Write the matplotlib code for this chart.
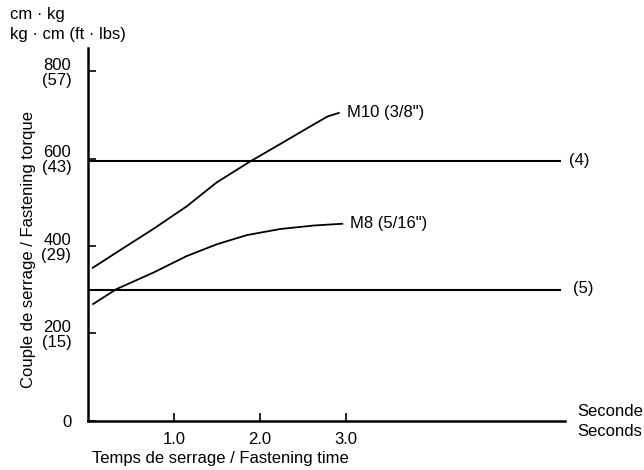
import matplotlib.pyplot as plt

plt.rcParams['font.family'] = ['Liberation Sans', 'DejaVu Sans']

# torque curves (time in s, torque in kg-cm)
m10_time = [0.055, 0.37, 0.76, 1.15, 1.50, 1.89, 2.24, 2.63, 2.79, 2.92]
m10_torque = [350, 390, 439, 491, 546, 594, 634, 679, 697, 705]
m8_time = [0.06, 0.33, 0.76, 1.15, 1.50, 1.85, 2.24, 2.63, 2.96]
m8_torque = [267, 301, 339, 377, 404, 425, 439, 447, 451]

# reference levels
level_time = [0.0, 5.5]
level4 = [595, 595]
level5 = [300, 300]

y_ticks = [0, 200, 400, 600, 800]
y_labels = ['0', '200\n(15)', '400\n(29)', '600\n(43)', '800\n(57)']
x_ticks = [1.0, 2.0, 3.0]
x_labels = ['1.0', '2.0', '3.0']

fs = 12

fig = plt.figure(figsize=(6.44, 4.70), dpi=100)
ax = fig.add_axes([0.1366, 0.1053, 0.7404, 0.7927])

ax.plot(m10_time, m10_torque, color='black', lw=1.3)
ax.plot(m8_time, m8_torque, color='black', lw=1.3)
ax.plot(level_time, level4, color='black', lw=1.5)
ax.plot(level_time, level5, color='black', lw=1.5)

ax.text(3.02, 707, 'M10 (3/8")', fontsize=fs, va='center', ha='left')
ax.text(3.05, 452, 'M8 (5/16")', fontsize=fs, va='center', ha='left')
ax.text(5.60, 595, '(4)', fontsize=fs, va='center', ha='left')
ax.text(5.65, 302, '(5)', fontsize=fs, va='center', ha='left')

ax.set_xlim(0, 5.55)
ax.set_ylim(0, 854)
ax.set_xticks(x_ticks)
ax.set_xticklabels(x_labels)
ax.set_yticks(y_ticks)
ax.set_yticklabels(y_labels, linespacing=1.0)
ax.tick_params(axis='both', direction='in', length=6, width=1.2, labelsize=fs)
ax.tick_params(axis='y', pad=12)
ax.tick_params(axis='x', pad=8)

for side in ['top', 'right']:
    ax.spines[side].set_visible(False)
for side in ['left', 'bottom']:
    ax.spines[side].set_linewidth(1.8)

ax.set_ylabel('Couple de serrage / Fastening torque', fontsize=fs)
ax.yaxis.set_label_coords(-0.108, 0.458)
ax.set_xlabel('Temps de serrage / Fastening time', fontsize=fs)
ax.xaxis.set_label_coords(0.277, -0.082)

fig.text(577 / 644, 1 - 412 / 470, 'Seconde', fontsize=fs, va='center', ha='left')
fig.text(577 / 644, 1 - 432 / 470, 'Seconds', fontsize=fs, va='center', ha='left')
fig.text(10 / 644, 1 - 14 / 470, 'cm · kg', fontsize=fs, va='center', ha='left')
fig.text(10 / 644, 1 - 34 / 470, 'kg · cm (ft · lbs)', fontsize=fs, va='center', ha='left')

fig.savefig('out.png', dpi=100)
